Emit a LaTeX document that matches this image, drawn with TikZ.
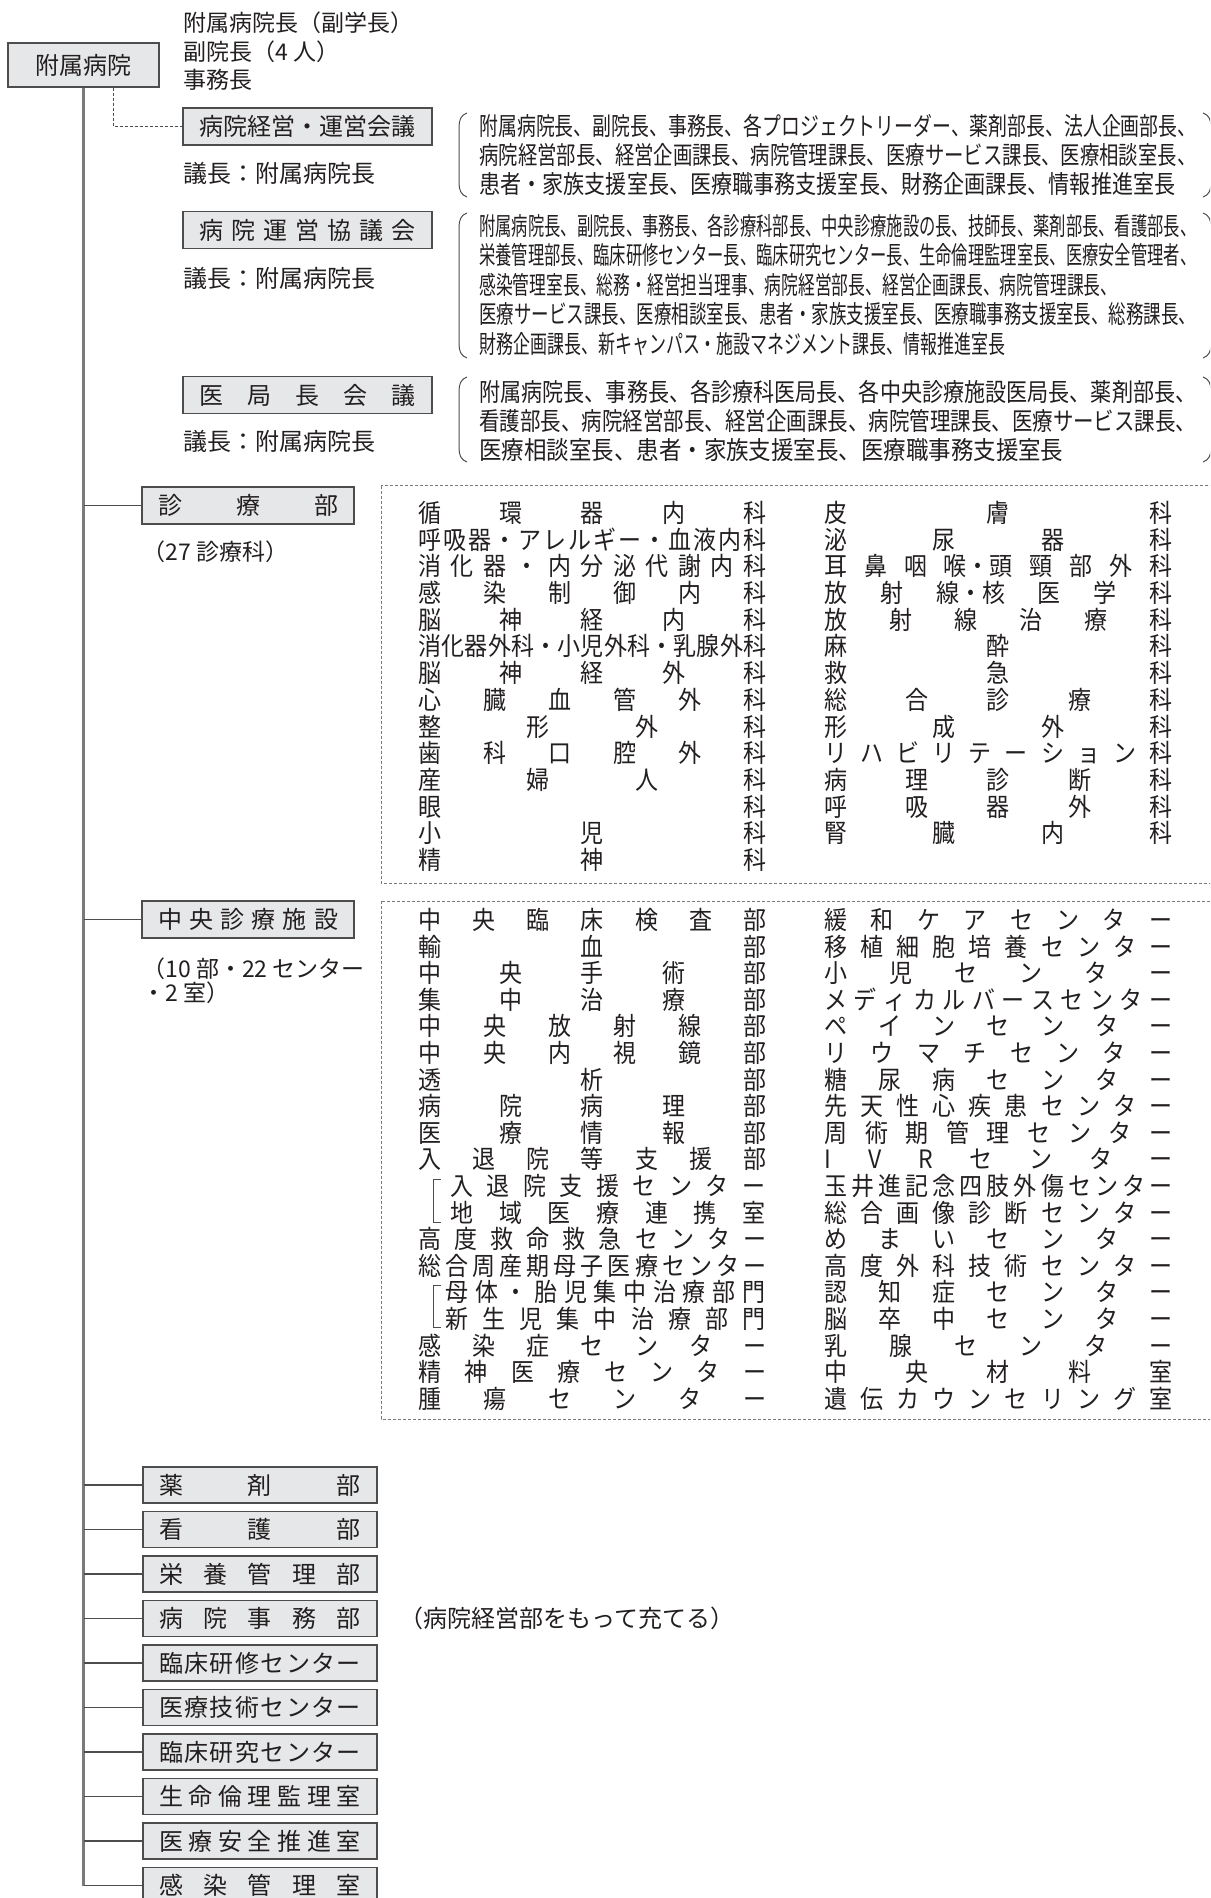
\documentclass[tikz,border=0pt]{standalone}
\usepackage{fontspec}
\setmainfont{Noto Sans CJK JP}
\usepackage{graphicx}
\usetikzlibrary{positioning}

\definecolor{boxfill}{HTML}{E6E7E8}
\definecolor{boxline}{HTML}{4D4D4D}
\definecolor{linegray}{HTML}{7A7A7A}
\definecolor{txt}{HTML}{231F20}

% spread the characters of #2 evenly over a box of width #1
\makeatletter
\def\sp@endmark{\sp@stop}
\def\sp@loop#1{\def\sp@arg{#1}\ifx\sp@arg\sp@endmark\else\if@tempswa\hfill\fi\@tempswatrue#1\expandafter\sp@loop\fi}
\newcommand\spreadtext[2]{\hbox to #1{\@tempswafalse\sp@loop#2\sp@stop}}
\makeatother
\newcommand\dept[1]{\scalebox{1}[1.1]{\spreadtext{174pt}{#1}}}
\newcommand\subdept[2]{\scalebox{1}[1.1]{\spreadtext{#1}{#2}}}
\newcommand\memline[2]{\resizebox{#1}{\height}{#2}}

\begin{document}
\begin{tikzpicture}[x=0.5pt, y=-0.5pt,
    every node/.style={inner sep=0pt, text=txt},
    orgbox/.style={draw=boxline, fill=boxfill, line width=0.7pt, minimum height=18pt, font=\fontsize{12}{14}\selectfont},
    note/.style={anchor=west, font=\fontsize{11.5}{13}\selectfont},
    chair/.style={anchor=west, font=\fontsize{12}{14}\selectfont},
    member/.style={anchor=west, font=\fontsize{12.5}{14}\selectfont},
    dept/.style={anchor=west, font=\fontsize{11.5}{13}\selectfont},
    branch/.style={draw=boxline, line width=0.6pt},
    trunkline/.style={draw=linegray, line width=1.2pt},
    dotline/.style={draw=boxline, line width=0.5pt, dash pattern=on 1.5pt off 1pt},
    listframe/.style={draw=linegray, line width=0.5pt, dash pattern=on 1.5pt off 1pt},
    paren/.style={draw=boxline, line width=0.5pt}]
  \useasboundingbox (0,0) rectangle (1210,1898);
  \clip (0,0) rectangle (1210,1898);

  % hospital and its heads
  \node[orgbox, minimum width=75.5pt, minimum height=22pt] (hosp) at (83.5,65) {附属病院};
  \node[note] (head1) at (183,23) {附属病院長（副学長）};
  \node[note] (head2) at (183,52) {副院長（4 人）};
  \node[note] (head3) at (183,80) {事務長};

  % committees
  \node[orgbox, minimum width=124.5pt, minimum height=18.5pt] (keiei) at (307.5,126.5) {病院経営・運営会議};
  \node[chair] (chair1) at (183,173) {議長：附属病院長};
  \node[orgbox, minimum width=124.5pt, minimum height=18.5pt] (kyogi) at (307.5,230) {\spreadtext{108.5pt}{病院運営協議会}};
  \node[chair] (chair2) at (183,278) {議長：附属病院長};
  \node[orgbox, minimum width=124.5pt, minimum height=18.5pt] (ikyoku) at (307.5,395) {\spreadtext{108.5pt}{医局長会議}};
  \node[chair] (chair3) at (183,441) {議長：附属病院長};

  % members
  \node[member] (m11) at (479,126) {\memline{358.5pt}{附属病院長、副院長、事務長、各プロジェクトリーダー、薬剤部長、法人企画部長、}};
  \node[member] (m12) at (479,155) {\memline{358.5pt}{病院経営部長、経営企画課長、病院管理課長、医療サービス課長、医療相談室長、}};
  \node[member] (m13) at (479,184) {\memline{348pt}{患者・家族支援室長、医療職事務支援室長、財務企画課長、情報推進室長}};
  \node[member] (m21) at (479,226) {\memline{358.5pt}{附属病院長、副院長、事務長、各診療科部長、中央診療施設の長、技師長、薬剤部長、看護部長、}};
  \node[member] (m22) at (479,255) {\memline{358.5pt}{栄養管理部長、臨床研修センター長、臨床研究センター長、生命倫理監理室長、医療安全管理者、}};
  \node[member] (m23) at (479,285) {\memline{319pt}{感染管理室長、総務・経営担当理事、病院経営部長、経営企画課長、病院管理課長、}};
  \node[member] (m24) at (479,314) {\memline{358.5pt}{医療サービス課長、医療相談室長、患者・家族支援室長、医療職事務支援室長、総務課長、}};
  \node[member] (m25) at (479,344) {\memline{263pt}{財務企画課長、新キャンパス・施設マネジメント課長、情報推進室長}};
  \node[member] (m31) at (479,392) {\memline{358.5pt}{附属病院長、事務長、各診療科医局長、各中央診療施設医局長、薬剤部長、}};
  \node[member] (m32) at (479,421) {\memline{358.5pt}{看護部長、病院経営部長、経営企画課長、病院管理課長、医療サービス課長、}};
  \node[member] (m33) at (479,450) {\memline{292pt}{医療相談室長、患者・家族支援室長、医療職事務支援室長}};
  \draw[paren] (467,113) .. controls (461,115) and (459,120) .. (459,127) -- (459,183) .. controls (459,190) and (461,195) .. (467,197);
  \draw[paren] (467,213) .. controls (461,215) and (459,220) .. (459,227) -- (459,344) .. controls (459,351) and (461,356) .. (467,358);
  \draw[paren] (467,377) .. controls (461,379) and (459,384) .. (459,391) -- (459,448) .. controls (459,455) and (461,460) .. (467,462);
  \draw[paren] (1203,113) .. controls (1209,115) and (1211,120) .. (1211,127) -- (1211,183) .. controls (1211,190) and (1209,195) .. (1203,197);
  \draw[paren] (1203,213) .. controls (1209,215) and (1211,220) .. (1211,227) -- (1211,344) .. controls (1211,351) and (1209,356) .. (1203,358);
  \draw[paren] (1203,377) .. controls (1209,379) and (1211,384) .. (1211,391) -- (1211,448) .. controls (1211,455) and (1209,460) .. (1203,462);

  % clinical departments
  \node[orgbox, minimum width=106pt, minimum height=18.5pt] (shinryo) at (248,505.5) {\spreadtext{90pt}{診療部}};
  \node[note] (shinryo-n) at (142,552) {（27 診療科）};
  \draw[listframe] (381,486) rectangle (1225,883);
  \node[dept] (sa1) at (418,513) {\dept{循環器内科}};
  \node[dept] (sa2) at (418,540) {\dept{呼吸器・アレルギー・血液内科}};
  \node[dept] (sa3) at (418,566) {\dept{消化器・内分泌代謝内科}};
  \node[dept] (sa4) at (418,593) {\dept{感染制御内科}};
  \node[dept] (sa5) at (418,620) {\dept{脳神経内科}};
  \node[dept] (sa6) at (418,646) {\dept{消化器外科・小児外科・乳腺外科}};
  \node[dept] (sa7) at (418,673) {\dept{脳神経外科}};
  \node[dept] (sa8) at (418,700) {\dept{心臓血管外科}};
  \node[dept] (sa9) at (418,727) {\dept{整形外科}};
  \node[dept] (sa10) at (418,753) {\dept{歯科口腔外科}};
  \node[dept] (sa11) at (418,780) {\dept{産婦人科}};
  \node[dept] (sa12) at (418,807) {\dept{眼科}};
  \node[dept] (sa13) at (418,833) {\dept{小児科}};
  \node[dept] (sa14) at (418,860) {\dept{精神科}};
  \node[dept] (sb1) at (824,513) {\dept{皮膚科}};
  \node[dept] (sb2) at (824,540) {\dept{泌尿器科}};
  \node[dept] (sb3) at (824,566) {\dept{耳鼻咽{喉・頭}頸部外科}};
  \node[dept] (sb4) at (824,593) {\dept{放射{線・核}医学科}};
  \node[dept] (sb5) at (824,620) {\dept{放射線治療科}};
  \node[dept] (sb6) at (824,646) {\dept{麻酔科}};
  \node[dept] (sb7) at (824,673) {\dept{救急科}};
  \node[dept] (sb8) at (824,700) {\dept{総合診療科}};
  \node[dept] (sb9) at (824,727) {\dept{形成外科}};
  \node[dept] (sb10) at (824,753) {\dept{リハビリテーション科}};
  \node[dept] (sb11) at (824,780) {\dept{病理診断科}};
  \node[dept] (sb12) at (824,807) {\dept{呼吸器外科}};
  \node[dept] (sb13) at (824,833) {\dept{腎臓内科}};

  % central facilities
  \node[orgbox, minimum width=106pt, minimum height=18.5pt] (chuo) at (248,919.5) {\spreadtext{90pt}{中央診療施設}};
  \node[note] (chuo-n1) at (142,969) {（10 部・22 センター};
  \node[note] (chuo-n2) at (142,993) {・2 室）};
  \draw[listframe] (381,901) rectangle (1225,1419);
  \node[dept] (ca1) at (418,920) {\dept{中央臨床検査部}};
  \node[dept] (ca2) at (418,947) {\dept{輸血部}};
  \node[dept] (ca3) at (418,973) {\dept{中央手術部}};
  \node[dept] (ca4) at (418,1000) {\dept{集中治療部}};
  \node[dept] (ca5) at (418,1026) {\dept{中央放射線部}};
  \node[dept] (ca6) at (418,1053) {\dept{中央内視鏡部}};
  \node[dept] (ca7) at (418,1080) {\dept{透析部}};
  \node[dept] (ca8) at (418,1106) {\dept{病院病理部}};
  \node[dept] (ca9) at (418,1133) {\dept{医療情報部}};
  \node[dept] (ca10) at (418,1159) {\dept{入退院等支援部}};
  \node[dept] (ca11) at (450,1186) {\subdept{157.5pt}{入退院支援センター}};
  \node[dept] (ca12) at (450,1213) {\subdept{157.5pt}{地域医療連携室}};
  \node[dept] (ca13) at (418,1239) {\dept{高度救命救急センター}};
  \node[dept] (ca14) at (418,1266) {\dept{総合周産期母子医療センター}};
  \node[dept] (ca15) at (445,1292) {\subdept{160pt}{母体・胎児集中治療部門}};
  \node[dept] (ca16) at (445,1319) {\subdept{160pt}{新生児集中治療部門}};
  \node[dept] (ca17) at (418,1346) {\dept{感染症センター}};
  \node[dept] (ca18) at (418,1372) {\dept{精神医療センター}};
  \node[dept] (ca19) at (418,1399) {\dept{腫瘍センター}};
  \draw[branch, line width=0.4pt] (441,1179) -- (433,1179) -- (433,1222) -- (441,1222);
  \draw[branch, line width=0.4pt] (441,1285) -- (433,1285) -- (433,1327) -- (441,1327);
  \node[dept] (cb1) at (824,920) {\dept{緩和ケアセンター}};
  \node[dept] (cb2) at (824,947) {\dept{移植細胞培養センター}};
  \node[dept] (cb3) at (824,973) {\dept{小児センター}};
  \node[dept] (cb4) at (824,1000) {\dept{メディカルバースセンター}};
  \node[dept] (cb5) at (824,1026) {\dept{ペインセンター}};
  \node[dept] (cb6) at (824,1053) {\dept{リウマチセンター}};
  \node[dept] (cb7) at (824,1080) {\dept{糖尿病センター}};
  \node[dept] (cb8) at (824,1106) {\dept{先天性心疾患センター}};
  \node[dept] (cb9) at (824,1133) {\dept{周術期管理センター}};
  \node[dept] (cb10) at (824,1159) {\dept{IVRセンター}};
  \node[dept] (cb11) at (824,1186) {\dept{玉井進記念四肢外傷センター}};
  \node[dept] (cb12) at (824,1213) {\dept{総合画像診断センター}};
  \node[dept] (cb13) at (824,1239) {\dept{めまいセンター}};
  \node[dept] (cb14) at (824,1266) {\dept{高度外科技術センター}};
  \node[dept] (cb15) at (824,1292) {\dept{認知症センター}};
  \node[dept] (cb16) at (824,1319) {\dept{脳卒中センター}};
  \node[dept] (cb17) at (824,1346) {\dept{乳腺センター}};
  \node[dept] (cb18) at (824,1372) {\dept{中央材料室}};
  \node[dept] (cb19) at (824,1399) {\dept{遺伝カウンセリング室}};

  % other units
  \node[orgbox, minimum width=117pt] (yakuzai) at (260,1485) {\spreadtext{101pt}{薬剤部}};
  \node[orgbox, minimum width=117pt] (kango) at (260,1529.5) {\spreadtext{101pt}{看護部}};
  \node[orgbox, minimum width=117pt] (eiyo) at (260,1574) {\spreadtext{101pt}{栄養管理部}};
  \node[orgbox, minimum width=117pt] (jimu) at (260,1618.5) {\spreadtext{101pt}{病院事務部}};
  \node[orgbox, minimum width=117pt] (kenshu) at (260,1663) {\spreadtext{101pt}{臨床研修センター}};
  \node[orgbox, minimum width=117pt] (gijutsu) at (260,1707.5) {\spreadtext{101pt}{医療技術センター}};
  \node[orgbox, minimum width=117pt] (kenkyu) at (260,1752) {\spreadtext{101pt}{臨床研究センター}};
  \node[orgbox, minimum width=117pt] (rinri) at (260,1796.5) {\spreadtext{101pt}{生命倫理監理室}};
  \node[orgbox, minimum width=117pt] (anzen) at (260,1841) {\spreadtext{101pt}{医療安全推進室}};
  \node[orgbox, minimum width=117pt] (kansen) at (260,1885.5) {\spreadtext{101pt}{感染管理室}};
  \node[note, font=\fontsize{12}{14}\selectfont] (jimu-n) at (399,1618.5) {（病院経営部をもって充てる）};

  % connectors
  \draw[trunkline] (hosp.south) -- (hosp.south |- kansen.west);
  \draw[dotline] ([xshift=15pt]hosp.south) |- (keiei.west);
  \draw[branch] (hosp.south |- shinryo.west) -- (shinryo.west);
  \draw[branch] (hosp.south |- chuo.west) -- (chuo.west);
  \draw[branch] (hosp.south |- yakuzai.west) -- (yakuzai.west);
  \draw[branch] (hosp.south |- kango.west) -- (kango.west);
  \draw[branch] (hosp.south |- eiyo.west) -- (eiyo.west);
  \draw[branch] (hosp.south |- jimu.west) -- (jimu.west);
  \draw[branch] (hosp.south |- kenshu.west) -- (kenshu.west);
  \draw[branch] (hosp.south |- gijutsu.west) -- (gijutsu.west);
  \draw[branch] (hosp.south |- kenkyu.west) -- (kenkyu.west);
  \draw[branch] (hosp.south |- rinri.west) -- (rinri.west);
  \draw[branch] (hosp.south |- anzen.west) -- (anzen.west);
  \draw[branch] (hosp.south |- kansen.west) -- (kansen.west);
\end{tikzpicture}
\end{document}
